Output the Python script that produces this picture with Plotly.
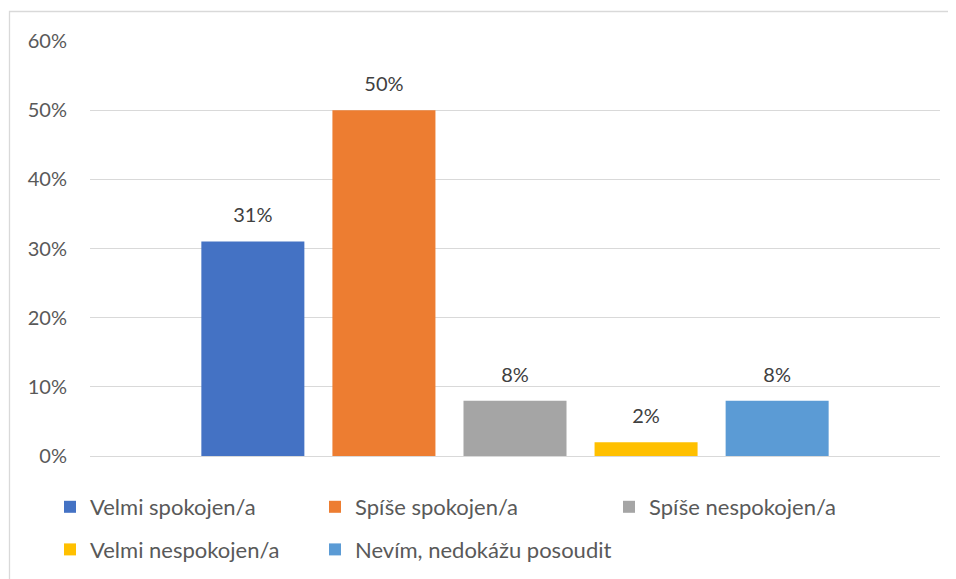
import plotly.graph_objects as go

categories = ["Velmi spokojen/a", "Spíše spokojen/a", "Spíše nespokojen/a",
              "Velmi nespokojen/a", "Nevím, nedokážu posoudit"]
values = [0.31, 0.50, 0.08, 0.02, 0.08]
colors = ["#4472C4", "#ED7D31", "#A5A5A5", "#FFC000", "#5B9BD5"]
legend_ids = ["legend", "legend2", "legend3", "legend", "legend2"]

FONT = "Lato, 'Open Sans', sans-serif"
TXT = "#595959"

# page body has an 8px margin; figure is shifted by that amount
OFF = 8
W, H = 956 - OFF, 579 - OFF
L, R, T, B = 90 - OFF, 16, 41 - OFF, 123
pw, ph = W - L - R, H - T - B

def px_x(sx):
    return (sx - OFF - L) / pw

def px_y(sy):
    return (H - B - (sy - OFF)) / ph

fig = go.Figure()
for i, (name, v, c, lg) in enumerate(zip(categories, values, colors, legend_ids)):
    fig.add_trace(go.Bar(
        x=[0], y=[v], name=name, marker=dict(color=c, line=dict(width=0)),
        offsetgroup=str(i), legend=lg, legendgroup=name, hoverinfo="skip",
    ))
for i, (name, v) in enumerate(zip(categories, values)):
    fig.add_trace(go.Scatter(
        x=[0], y=[v], mode="markers+text", offsetgroup=str(i),
        marker=dict(size=21, opacity=0),
        text=[f"{v:.0%}"], textposition="top center",
        textfont=dict(family=FONT, size=20, color="#404040"),
        showlegend=False, hoverinfo="skip", cliponaxis=False,
    ))

leg_common = dict(
    orientation="v", xanchor="left", yanchor="top",
    font=dict(family=FONT, size=22, color=TXT),
    bgcolor="rgba(0,0,0,0)", borderwidth=0, tracegroupgap=11,
)

fig.update_layout(
    width=W, height=H,
    margin=dict(l=L, r=R, t=T, b=B, autoexpand=False),
    paper_bgcolor="white", plot_bgcolor="white",
    barmode="group", bargap=0.229, bargroupgap=0.214,
    scattermode="group", scattergap=0.229,
    showlegend=True,
    legend=dict(x=px_x(50), y=px_y(486), **leg_common),
    legend2=dict(x=px_x(315), y=px_y(486), **leg_common),
    legend3=dict(x=px_x(609), y=px_y(486), **leg_common),
    xaxis=dict(range=[-0.5, 0.5], showticklabels=False, showgrid=False,
               zeroline=False, showline=False, ticks=""),
    yaxis=dict(range=[0, 0.6], dtick=0.1, tickformat=".0%",
               showgrid=True, gridcolor="#D9D9D9", gridwidth=1.3,
               zeroline=True, zerolinecolor="#D9D9D9", zerolinewidth=1.3,
               showline=False, ticks="", ticklabelstandoff=22,
               tickfont=dict(family=FONT, size=20, color=TXT)),
    shapes=[dict(type="rect", xref="paper", yref="paper",
                 x0=px_x(9.5), x1=px_x(975), y0=px_y(600), y1=px_y(11.5),
                 line=dict(color="#D9D9D9", width=1.3), fillcolor="rgba(0,0,0,0)",
                 layer="below")],
)

fig.write_html("out.html")
